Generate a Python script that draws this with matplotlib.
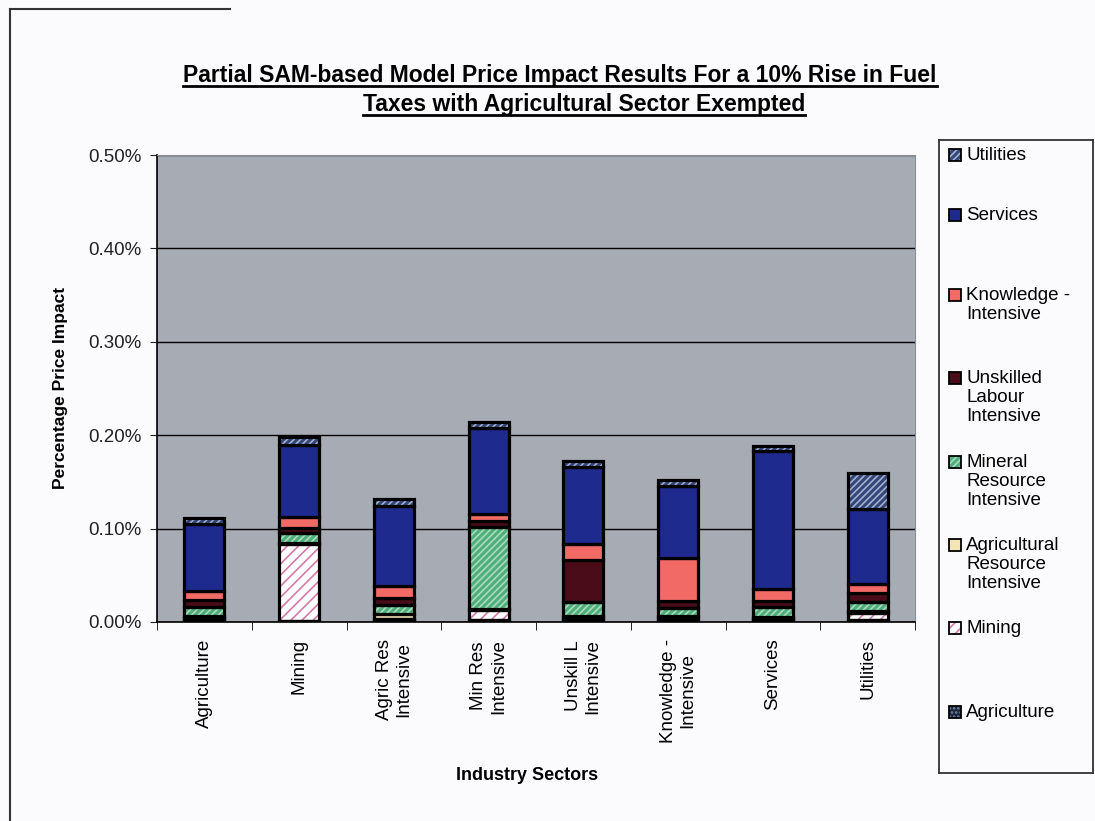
"""
Stacked bar chart: partial SAM-based model price impact of a 10% fuel tax rise.
"""
import matplotlib
matplotlib.use("Agg")
import matplotlib.pyplot as plt
from matplotlib.lines import Line2D
from matplotlib.patches import Rectangle
import numpy as np

plt.rcParams["font.family"] = ["Liberation Sans", "DejaVu Sans"]
plt.rcParams["hatch.linewidth"] = 1.2

categories = ["Agriculture", "Mining", "Agric Res\nIntensive", "Min Res\nIntensive",
              "Unskill L\nIntensive", "Knowledge -\nIntensive", "Services", "Utilities"]

# contribution of each source sector (percent), stacked bottom to top
agriculture = [0.003, 0.001, 0.002, 0.002, 0.002, 0.002, 0.002, 0.002]
mining = [0.001, 0.082, 0.001, 0.011, 0.002, 0.003, 0.001, 0.008]
agric_res = [0.002, 0.002, 0.006, 0.001, 0.002, 0.001, 0.002, 0.002]
mineral_res = [0.010, 0.010, 0.009, 0.088, 0.015, 0.009, 0.011, 0.009]
unskilled = [0.008, 0.006, 0.008, 0.006, 0.045, 0.008, 0.007, 0.010]
knowledge = [0.009, 0.011, 0.013, 0.008, 0.017, 0.046, 0.012, 0.010]
services = [0.072, 0.078, 0.085, 0.092, 0.083, 0.077, 0.148, 0.080]
utilities = [0.006, 0.008, 0.008, 0.006, 0.006, 0.006, 0.005, 0.039]

series_names = ["Agriculture", "Mining", "Agricultural\nResource\nIntensive",
                "Mineral\nResource\nIntensive", "Unskilled\nLabour\nIntensive",
                "Knowledge -\nIntensive", "Services", "Utilities"]
series_values = [agriculture, mining, agric_res, mineral_res, unskilled,
                 knowledge, services, utilities]
# (face colour, hatch, hatch colour)
styles = [
    ("#1c2636", "....", "#6f86b0"),
    ("#ffffff", "///", "#d27aa8"),
    ("#f3e6b4", None, None),
    ("#4fae7c", "/////", "#a9dcbc"),
    ("#4a0c18", None, None),
    ("#f26a66", None, None),
    ("#1f2a8e", None, None),
    ("#34467a", "/////", "#a3b0cc"),
]

fig = plt.figure(figsize=(10.95, 8.21), dpi=100)
fig.patch.set_facecolor("#fbfbfd")
W, H = 1095, 821

ax = fig.add_axes([157 / W, 1 - 622 / H, 758 / W, 467 / H])
ax.set_facecolor("#a7abb3")

x = np.arange(len(categories))
width = 0.42
edge_lw = 2.3
bottom = np.zeros(len(categories))
for vals, (face, hatch, hcol) in zip(series_values, styles):
    vals = np.array(vals)
    if hatch:
        ax.bar(x, vals, width, bottom=bottom, color=face, hatch=hatch,
               edgecolor=hcol, linewidth=0, zorder=3)
        ax.bar(x, vals, width, bottom=bottom, fill=False,
               edgecolor="black", linewidth=edge_lw, zorder=4)
    else:
        ax.bar(x, vals, width, bottom=bottom, color=face,
               edgecolor="black", linewidth=edge_lw, zorder=3)
    bottom += vals

ax.set_xlim(-0.5, len(categories) - 0.5)
ax.set_ylim(0, 0.5)
ax.set_yticks(np.arange(0, 0.51, 0.1))
ax.set_yticklabels([f"{v:.2f}%" for v in np.arange(0, 0.51, 0.1)], fontsize=13.5)
ax.yaxis.grid(True, color="black", linewidth=1.0, zorder=1)
ax.set_axisbelow(True)
ax.tick_params(axis="y", direction="out", length=5, pad=6, colors="#222222")

ax.set_xticks(x)
ax.set_xticklabels(categories, rotation=90, fontsize=13.5, va="top",
                   multialignment="center")
ax.set_xticks(np.arange(-0.5, len(categories)), minor=True)
ax.tick_params(axis="x", which="major", length=0, pad=12)
ax.tick_params(axis="x", which="minor", length=6, direction="out")

for side in ("top", "right"):
    ax.spines[side].set_color("#8a8e96")
for side in ("left", "bottom"):
    ax.spines[side].set_color("black")
    ax.spines[side].set_linewidth(1.2)

fig.text(60 / W, 1 - 388 / H, "Percentage Price Impact", rotation=90,
         ha="center", va="center", fontsize=12.5, fontweight="bold")
fig.text(527 / W, 1 - 775 / H, "Industry Sectors", ha="center", va="center",
         fontsize=13, fontweight="bold")

# title with underline
t1 = fig.text(560 / W, 1 - 82 / H,
              "Partial SAM-based Model Price Impact Results For a 10% Rise in Fuel",
              ha="center", va="baseline", fontsize=16.5, fontweight="bold")
t2 = fig.text(584 / W, 1 - 111 / H, "Taxes with Agricultural Sector Exempted",
              ha="center", va="baseline", fontsize=16.5, fontweight="bold")
fig.canvas.draw()
renderer = fig.canvas.get_renderer()
for t, yb in ((t1, 82), (t2, 111)):
    bb = t.get_window_extent(renderer)
    yl = 1 - (yb + 4) / H
    fig.add_artist(Line2D([bb.x0 / W, bb.x1 / W], [yl, yl], color="black",
                          linewidth=2.0))

# outer chart frame (left and top edges visible)
fig.add_artist(Line2D([10 / W, 10 / W], [0, 1 - 9 / H], color="#333333", linewidth=1.5))
fig.add_artist(Line2D([10 / W, 230 / W], [1 - 9 / H, 1 - 9 / H], color="#333333", linewidth=1.5))

# legend box drawn in pixel coordinates
lax = fig.add_axes([939 / W, 1 - 773 / H, 154 / W, 633 / H])
lax.set_xlim(939, 1093)
lax.set_ylim(773, 140)
lax.set_facecolor("#fbfbfd")
for s in lax.spines.values():
    s.set_color("#333333")
    s.set_linewidth(1.3)
lax.set_xticks([])
lax.set_yticks([])

legend_rows = [155, 215, 295, 378, 462, 545, 628, 712]
order = list(range(len(series_names)))[::-1]
for yrow, idx in zip(legend_rows, order):
    face, hatch, hcol = styles[idx]
    if hatch:
        lax.add_patch(Rectangle((949, yrow - 6), 12, 12, facecolor=face,
                                hatch=hatch, edgecolor=hcol, linewidth=0))
    lax.add_patch(Rectangle((949, yrow - 6), 12, 12, facecolor=face if not hatch else "none",
                            edgecolor="black", linewidth=1.3))
    lax.text(966, yrow - 8, series_names[idx], ha="left", va="top",
             fontsize=13.5, linespacing=1.15)

fig.savefig("out.png", dpi=100, facecolor=fig.get_facecolor())
